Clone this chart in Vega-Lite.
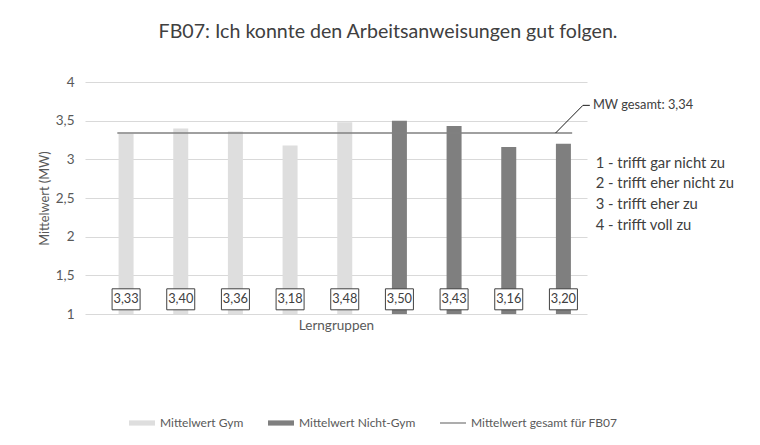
{
  "$schema": "https://vega.github.io/schema/vega-lite/v6.json",
  "width": 502,
  "height": 232,
  "autosize": {"type": "none"},
  "padding": {"left": 85, "top": 82, "right": 173, "bottom": 131},
  "background": "white",
  "config": {
    "font": "Lato",
    "locale": {"number": {"decimal": ",", "thousands": ".", "grouping": [3], "currency": ["", " €"]}},
    "view": {"stroke": null}
  },
  "title": {
    "text": "FB07: Ich konnte den Arbeitsanweisungen gut folgen.",
    "fontSize": 19.6,
    "fontWeight": "normal",
    "color": "#404040",
    "anchor": "middle",
    "dx": 52,
    "offset": 32
  },
  "datasets": {
    "gruppen": [
      {"gruppe": 1, "mw": 3.33, "typ": "Mittelwert Gym"},
      {"gruppe": 2, "mw": 3.40, "typ": "Mittelwert Gym"},
      {"gruppe": 3, "mw": 3.36, "typ": "Mittelwert Gym"},
      {"gruppe": 4, "mw": 3.18, "typ": "Mittelwert Gym"},
      {"gruppe": 5, "mw": 3.48, "typ": "Mittelwert Gym"},
      {"gruppe": 6, "mw": 3.50, "typ": "Mittelwert Nicht-Gym"},
      {"gruppe": 7, "mw": 3.43, "typ": "Mittelwert Nicht-Gym"},
      {"gruppe": 8, "mw": 3.16, "typ": "Mittelwert Nicht-Gym"},
      {"gruppe": 9, "mw": 3.20, "typ": "Mittelwert Nicht-Gym"}
    ],
    "gesamt": [
      {"mw": 3.34, "typ": "Mittelwert gesamt für FB07"}
    ]
  },
  "layer": [
    {
      "data": {"name": "gruppen"},
      "mark": {"type": "bar", "width": 15},
      "encoding": {
        "x": {
          "field": "gruppe",
          "type": "quantitative",
          "scale": {"domain": [0.34, 9.34], "nice": false, "zero": false},
          "axis": {
            "labels": false, "ticks": false, "domain": false, "grid": false,
            "title": "Lerngruppen", "titleFontSize": 13.5, "titleFontWeight": "normal",
            "titleColor": "#595959", "titlePadding": 4
          }
        },
        "y": {
          "field": "mw",
          "type": "quantitative",
          "scale": {"domain": [1, 4], "nice": false, "zero": false},
          "axis": {
            "values": [1, 1.5, 2, 2.5, 3, 3.5, 4],
            "tickCount": 12,
            "labelOverlap": false,
            "format": ".1~f",
            "grid": true, "gridColor": "#d9d9d9", "gridWidth": 1,
            "domain": false, "ticks": false,
            "labelColor": "#595959", "labelFontSize": 13.5, "labelPadding": 11,
            "title": "Mittelwert (MW)", "titleFontSize": 12.8, "titleFontWeight": "normal",
            "titleColor": "#595959", "titlePadding": 4
          }
        },
        "y2": {"datum": 1},
        "color": {
          "field": "typ",
          "type": "nominal",
          "scale": {
            "domain": ["Mittelwert Gym", "Mittelwert Nicht-Gym", "Mittelwert gesamt für FB07"],
            "range": ["#dedede", "#7f7f7f", "#808080"]
          },
          "legend": {
            "orient": "none",
            "legendX": 44,
            "legendY": 328,
            "direction": "horizontal",
            "columns": 3,
            "columnPadding": 24,
            "title": null,
            "labelFontSize": 12,
            "labelColor": "#595959",
            "labelOffset": 5,
            "symbolSize": 676,
            "symbolStrokeWidth": 0,
            "encode": {
              "symbols": {
                "update": {
                  "shape": {"signal": "datum.value === 'Mittelwert gesamt für FB07' ? 'M-1,-0.05H1V0.05H-1Z' : 'M-1,-0.2H1V0.2H-1Z'"},
                  "fill": {"signal": "datum.value === 'Mittelwert gesamt für FB07' ? '#595959' : scale('color', datum.value)"},
                  "opacity": {"value": 1}
                }
              }
            }
          }
        }
      }
    },
    {
      "data": {"name": "gesamt"},
      "mark": {"type": "rule", "strokeWidth": 1.5},
      "encoding": {
        "x": {"datum": 0.84, "type": "quantitative"},
        "x2": {"datum": 9.16},
        "y": {"field": "mw", "type": "quantitative"},
        "color": {"field": "typ", "type": "nominal"}
      }
    },
    {
      "data": {"values": [{}]},
      "mark": {"type": "rule", "strokeWidth": 1, "color": "#1a1a1a"},
      "encoding": {
        "x": {"datum": 8.856, "type": "quantitative"},
        "x2": {"datum": 9.357},
        "y": {"datum": 3.34, "type": "quantitative"},
        "y2": {"datum": 3.698}
      }
    },
    {
      "data": {"values": [{}]},
      "mark": {"type": "rule", "strokeWidth": 1, "color": "#1a1a1a"},
      "encoding": {
        "x": {"datum": 9.357, "type": "quantitative"},
        "x2": {"datum": 9.483},
        "y": {"datum": 3.698, "type": "quantitative"}
      }
    },
    {
      "data": {"values": [{}]},
      "mark": {"type": "text", "text": "MW gesamt: 3,34", "fontSize": 12.8, "color": "#404040", "align": "left", "baseline": "middle"},
      "encoding": {
        "x": {"datum": 9.54, "type": "quantitative"},
        "y": {"datum": 3.698, "type": "quantitative"}
      }
    },
    {
      "data": {"values": [{}]},
      "mark": {
        "type": "text",
        "text": ["1 - trifft gar nicht zu", "2 - trifft eher nicht zu", "3 - trifft eher zu", "4 - trifft voll zu"],
        "fontSize": 14.8, "lineHeight": 20.7, "color": "#404040", "align": "left", "baseline": "middle"
      },
      "encoding": {
        "x": {"datum": 9.59, "type": "quantitative"},
        "y": {"datum": 2.945, "type": "quantitative"}
      }
    },
    {
      "data": {"name": "gruppen"},
      "mark": {"type": "point", "shape": "M-1,-0.75H1V0.75H-1Z", "size": 784, "filled": true, "fill": "white", "stroke": "#404040", "strokeWidth": 1, "opacity": 1},
      "encoding": {
        "x": {"field": "gruppe", "type": "quantitative"},
        "y": {"datum": 1.19, "type": "quantitative"}
      }
    },
    {
      "data": {"name": "gruppen"},
      "mark": {"type": "text", "fontSize": 12.8, "color": "#404040", "baseline": "middle"},
      "encoding": {
        "x": {"field": "gruppe", "type": "quantitative"},
        "y": {"datum": 1.19, "type": "quantitative"},
        "text": {"field": "mw", "type": "quantitative", "format": ".2f"}
      }
    }
  ]
}
